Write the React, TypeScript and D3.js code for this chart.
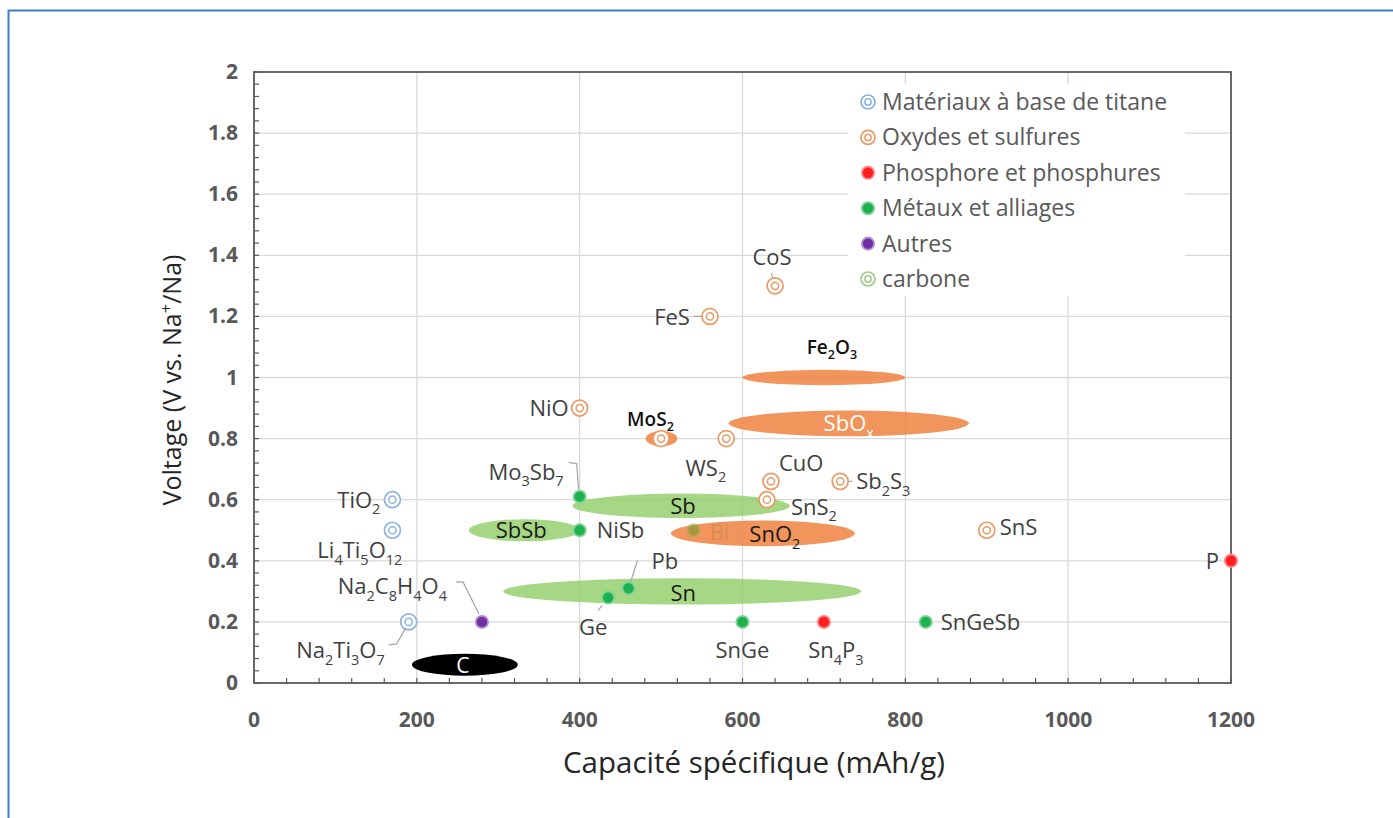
import React from 'react'
import * as d3 from 'd3'

// Categories (legend order)
const categories = [
  'Matériaux à base de titane',
  'Oxydes et sulfures',
  'Phosphore et phosphures',
  'Métaux et alliages',
  'Autres',
  'carbone',
]

// Points: [label, capacity (mAh/g), voltage (V)]
const titanePoints: [string, number, number][] = [
  ['TiO_2', 170, 0.6],
  ['Li_4Ti_5O_12', 170, 0.5],
  ['Na_2Ti_3O_7', 190, 0.2],
]
const oxydePoints: [string, number, number][] = [
  ['CoS', 640, 1.3],
  ['FeS', 560, 1.2],
  ['NiO', 400, 0.9],
  ['MoS_2', 500, 0.8],
  ['WS_2', 580, 0.8],
  ['CuO', 635, 0.66],
  ['Sb_2S_3', 720, 0.66],
  ['SnS_2', 630, 0.6],
  ['SnS', 900, 0.5],
]
const phosphorePoints: [string, number, number][] = [
  ['Sn_4P_3', 700, 0.2],
  ['P', 1200, 0.4],
]
const metauxPoints: [string, number, number][] = [
  ['Mo_3Sb_7', 400, 0.61],
  ['NiSb', 400, 0.5],
  ['Bi', 540, 0.5],
  ['Pb', 460, 0.31],
  ['Ge', 435, 0.28],
  ['SnGe', 600, 0.2],
  ['SnGeSb', 825, 0.2],
]
const autresPoints: [string, number, number][] = [
  ['Na_2C_8H_4O_4', 280, 0.2],
]

// Ranges: [label, capacity min, capacity max, voltage, voltage half-span]
const oxydeRanges: [string, number, number, number, number][] = [
  ['Fe_2O_3', 600, 800, 1.0, 0.025],
  ['SbO_x', 583, 878, 0.85, 0.042],
  ['SnO_2', 512, 738, 0.49, 0.042],
  ['MoS_2', 481, 520, 0.8, 0.025],
]
const metauxRanges: [string, number, number, number, number][] = [
  ['Sb', 391, 658, 0.58, 0.04],
  ['SbSb', 264, 400, 0.5, 0.036],
  ['Sn', 306, 746, 0.3, 0.043],
]
const carboneRanges: [string, number, number, number, number][] = [
  ['C', 194, 324, 0.06, 0.036],
]

const xTicks = [0, 200, 400, 600, 800, 1000, 1200]
const yTicks = [0, 0.2, 0.4, 0.6, 0.8, 1, 1.2, 1.4, 1.6, 1.8, 2]

// label layout: dx, dy (px from marker), anchor, optional leader polyline (px offsets)
type Lay = { dx: number; dy: number; anchor?: string; leader?: [number, number][] }
const labelLayout: Record<string, Lay> = {
  TiO_2: { dx: -12, dy: 8, anchor: 'end' },
  Li_4Ti_5O_12: { dx: 10, dy: 28, anchor: 'end' },
  Na_2Ti_3O_7: { dx: -24, dy: 36, anchor: 'end', leader: [[-3, 6], [-12, 22], [-20, 23]] },
  CoS: { dx: -3, dy: -21, anchor: 'middle', leader: [[-2, -7], [-4, -13]] },
  FeS: { dx: -20, dy: 9, anchor: 'end', leader: [[-8, 0], [-16, 0]] },
  NiO: { dx: -11, dy: 8, anchor: 'end' },
  WS_2: { dx: 0, dy: 37, anchor: 'end' },
  CuO: { dx: 8, dy: -10, anchor: 'start' },
  Sb_2S_3: { dx: 16, dy: 8, anchor: 'start', leader: [[7, 0], [12, 0]] },
  SnS_2: { dx: 24, dy: 15, anchor: 'start' },
  SnS: { dx: 13, dy: 5, anchor: 'start' },
  Sn_4P_3: { dx: 12, dy: 36, anchor: 'middle' },
  P: { dx: -12, dy: 8, anchor: 'end' },
  Mo_3Sb_7: { dx: -16, dy: -17, anchor: 'end', leader: [[-1, -7], [-3, -33], [-11, -34]] },
  NiSb: { dx: 17, dy: 8, anchor: 'start' },
  Bi: { dx: 16, dy: 10, anchor: 'start' },
  Pb: { dx: 23, dy: -19, anchor: 'start', leader: [[2, -6], [9, -28]] },
  Ge: { dx: -15, dy: 38, anchor: 'middle', leader: [[-6, 8], [-10, 13]] },
  SnGe: { dx: 0, dy: 36, anchor: 'middle' },
  SnGeSb: { dx: 15, dy: 8, anchor: 'start' },
  Na_2C_8H_4O_4: { dx: -35, dy: -28, anchor: 'end', leader: [[-3, -8], [-19, -40], [-26, -40]] },
}
const rangeLabelLayout: Record<string, { dx: number; dy: number; anchor: string; color: string; size: number; weight?: number }> = {
  Fe_2O_3: { dx: 8, dy: -24, anchor: 'middle', color: '#111', size: 19, weight: 600 },
  SbO_x: { dx: 0, dy: 8, anchor: 'middle', color: '#ffffff', size: 22 },
  SnO_2: { dx: 12, dy: 9, anchor: 'middle', color: '#1a1a1a', size: 22 },
  MoS_2: { dx: -11, dy: -13, anchor: 'middle', color: '#111', size: 19, weight: 600 },
  Sb: { dx: 2, dy: 8, anchor: 'middle', color: '#1a1a1a', size: 22 },
  SbSb: { dx: -3, dy: 8, anchor: 'middle', color: '#1a1a1a', size: 22 },
  Sn: { dx: 1, dy: 10, anchor: 'middle', color: '#1a1a1a', size: 22 },
  C: { dx: -2, dy: 8, anchor: 'middle', color: '#ffffff', size: 21 },
}

const FONT = '"Open Sans", Lato, sans-serif'
const xScale = d3.scaleLinear().domain([0, 1200]).range([254, 1231])
const yScale = d3.scaleLinear().domain([0, 2]).range([683, 72])

function Rich({ text, x, y, size, fill, anchor = 'start', weight = 400 }: any) {
  const parts: { t: string; kind: string }[] = []
  const re = /_(\d+|x)|\^(\+)/g
  let last = 0
  let m: RegExpExecArray | null
  while ((m = re.exec(text))) {
    if (m.index > last) parts.push({ t: text.slice(last, m.index), kind: 'n' })
    if (m[1]) parts.push({ t: m[1], kind: 'sub' })
    else parts.push({ t: m[2], kind: 'sup' })
    last = re.lastIndex
  }
  if (last < text.length) parts.push({ t: text.slice(last), kind: 'n' })
  let shift = 0
  return (
    <text x={x} y={y} fontSize={size} fill={fill} textAnchor={anchor} fontFamily={FONT} fontWeight={weight}>
      {parts.map((p, i) => {
        const target = p.kind === 'sub' ? size * 0.3 : p.kind === 'sup' ? -size * 0.38 : 0
        const dy = target - shift
        shift = target
        return (
          <tspan key={i} dy={dy} fontSize={p.kind === 'n' ? size : size * 0.66}>
            {p.t}
          </tspan>
        )
      })}
    </text>
  )
}

function RingMarker({ x, y, color, r = 8 }: any) {
  return (
    <g>
      <circle cx={x} cy={y} r={r} fill="#fff" stroke={color} strokeWidth={1.7} />
      <circle cx={x} cy={y} r={r * 0.45} fill="none" stroke={color} strokeWidth={1.5} />
    </g>
  )
}

function DotMarker({ x, y, color, halo, r = 7 }: any) {
  return (
    <g>
      <circle cx={x} cy={y} r={r} fill={halo} />
      <circle cx={x} cy={y} r={r - 1.8} fill={color} />
    </g>
  )
}

const ORANGE_RING = '#eb9a66'
const BLUE_RING = '#8cb2e0'
const GREEN_RING = '#a3c98c'

function Leader({ x, y, pts }: any) {
  if (!pts) return null
  const line = d3.line()(pts.map((p: [number, number]) => [x + p[0], y + p[1]]))
  return <path d={line || ''} fill="none" stroke="#a6a6a6" strokeWidth={1.2} />
}

function PointLabel({ name, x, y }: any) {
  const l = labelLayout[name]
  if (!l) return null
  const color = name === 'Bi' ? '#d98c55' : '#404040'
  return (
    <g>
      <Leader x={x} y={y} pts={l.leader} />
      <Rich text={name} x={x + l.dx} y={y + l.dy} size={22} fill={color} anchor={l.anchor} />
    </g>
  )
}

function RangeEllipse({ r, fill, opacity }: any) {
  const [, x0, x1, v, dv] = r
  const cx = (xScale(x0) + xScale(x1)) / 2
  const cy = yScale(v)
  return (
    <ellipse cx={cx} cy={cy} rx={(xScale(x1) - xScale(x0)) / 2} ry={yScale(0) - yScale(dv)} fill={fill} opacity={opacity} />
  )
}

function RangeLabel({ r }: any) {
  const [name, x0, x1, v] = r
  const l = rangeLabelLayout[name]
  const cx = (xScale(x0) + xScale(x1)) / 2
  return <Rich text={name} x={cx + l.dx} y={yScale(v) + l.dy} size={l.size} fill={l.color} anchor={l.anchor} weight={l.weight || 400} />
}

export default function App() {
  const [x0, x1] = xScale.range()
  const [yb, yt] = yScale.range()
  const minorX = d3.range(0, 1201, 40)
  const minorY = d3.range(0, 2.001, 0.04)
  const legendItems = [
    { kind: 'ring', color: BLUE_RING },
    { kind: 'ring', color: ORANGE_RING },
    { kind: 'dot', color: '#ff1f1f', halo: '#ff8080' },
    { kind: 'dot', color: '#1fb14e', halo: '#7fd49a' },
    { kind: 'dot', color: '#7030a0', halo: '#b08cd0' },
    { kind: 'ring', color: GREEN_RING },
  ]
  return (
    <div style={{ position: 'absolute', left: 0, top: 0 }}>
      <svg width={1393} height={818} style={{ display: 'block', background: '#fff' }}>
        <path d="M8.5,818 L8.5,10.5 L1393,10.5" fill="none" stroke="#3a7fc8" strokeWidth={2} />

        {/* grid */}
        {xTicks.slice(1, -1).map((t) => (
          <line key={'gx' + t} x1={xScale(t)} x2={xScale(t)} y1={yt} y2={yb} stroke="#d9d9d9" strokeWidth={1.3} />
        ))}
        {yTicks.slice(1, -1).map((t) => (
          <line key={'gy' + t} x1={x0} x2={x1} y1={yScale(t)} y2={yScale(t)} stroke="#d9d9d9" strokeWidth={1.3} />
        ))}

        {/* legend background */}
        <rect x={848} y={84} width={337} height={212} fill="#fff" />

        {/* minor ticks */}
        {minorX.map((t) => (
          <line key={'mx' + t} x1={xScale(t)} x2={xScale(t)} y1={yb} y2={yb - 5} stroke="#595959" strokeWidth={1.2} />
        ))}
        {minorY.map((t) => (
          <line key={'my' + t} x1={x0} x2={x0 + 5} y1={yScale(t)} y2={yScale(t)} stroke="#595959" strokeWidth={1.2} />
        ))}

        {/* plot frame */}
        <rect x={x0} y={yt} width={x1 - x0} height={yb - yt} fill="none" stroke="#595959" strokeWidth={1.8} />

        {/* tick labels */}
        {xTicks.map((t) => (
          <text key={'xl' + t} x={xScale(t)} y={727} textAnchor="middle" fontSize={21} fontWeight={700} fill="#595959" fontFamily={FONT}>
            {t}
          </text>
        ))}
        {yTicks.map((t) => (
          <text key={'yl' + t} x={238} y={yScale(t) + 7} textAnchor="end" fontSize={21} fontWeight={700} fill="#595959" fontFamily={FONT}>
            {d3.format('~g')(t)}
          </text>
        ))}

        {/* axis titles */}
        <text x={754} y={773} textAnchor="middle" fontSize={29.5} fill="#262626" fontFamily={FONT}>
          Capacité spécifique (mAh/g)
        </text>
        <g transform="translate(181,380) rotate(-90)">
          <Rich text="Voltage (V vs. Na^+/Na)" x={0} y={0} size={25} fill="#262626" anchor="middle" />
        </g>

        {/* ranges */}
        {carboneRanges.map((r) => <RangeEllipse key={r[0]} r={r} fill="#000" opacity={1} />)}
        {metauxRanges.map((r) => <RangeEllipse key={r[0]} r={r} fill="#8fcd66" opacity={0.8} />)}
        {oxydeRanges.map((r) => <RangeEllipse key={r[0]} r={r} fill="#ee8240" opacity={0.85} />)}

        {/* points */}
        {titanePoints.map(([n, c, v]) => (
          <RingMarker key={n} x={xScale(c)} y={yScale(v)} color={BLUE_RING} />
        ))}
        {oxydePoints.map(([n, c, v]) => (
          <RingMarker key={n} x={xScale(c)} y={yScale(v)} color={ORANGE_RING} />
        ))}
        {phosphorePoints.map(([n, c, v]) => (
          <DotMarker key={n} x={xScale(c)} y={yScale(v)} color="#ff1f1f" halo="#ff8080" />
        ))}
        {metauxPoints.map(([n, c, v]) => (
          <g key={n} opacity={n === 'Bi' ? 0.55 : 1}>
            <DotMarker x={xScale(c)} y={yScale(v)} color={n === 'Bi' ? '#6e9a2a' : '#1fb14e'} halo={n === 'Bi' ? '#9cb04a' : '#7fd49a'} />
          </g>
        ))}
        {autresPoints.map(([n, c, v]) => (
          <DotMarker key={n} x={xScale(c)} y={yScale(v)} color="#7030a0" halo="#b08cd0" />
        ))}

        {/* labels */}
        {[...titanePoints, ...oxydePoints, ...phosphorePoints, ...metauxPoints, ...autresPoints]
          .filter(([n]) => n !== 'MoS_2')
          .map(([n, c, v]) => (
            <PointLabel key={'l' + n} name={n} x={xScale(c)} y={yScale(v)} />
          ))}
        {[...oxydeRanges, ...metauxRanges, ...carboneRanges].map((r) => (
          <RangeLabel key={'rl' + r[0]} r={r} />
        ))}

        {/* legend */}
        {categories.map((c, i) => {
          const it = legendItems[i]
          const y = 102 + i * 35.4
          return (
            <g key={c}>
              {it.kind === 'ring' ? (
                <RingMarker x={868} y={y} color={it.color} r={7} />
              ) : (
                <DotMarker x={868} y={y} color={it.color} halo={it.halo} r={7} />
              )}
              <text x={882} y={y + 8} fontSize={23} fill="#595959" fontFamily={FONT}>
                {c}
              </text>
            </g>
          )
        })}
      </svg>
    </div>
  )
}
